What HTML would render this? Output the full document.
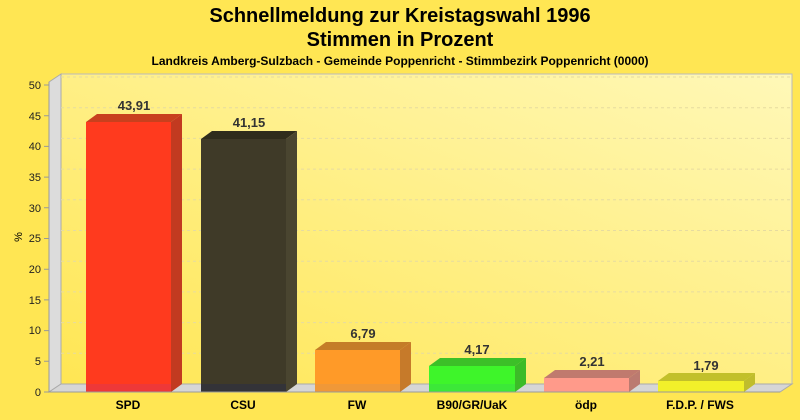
<!DOCTYPE html>
<html><head><meta charset="utf-8"><style>
html,body{margin:0;padding:0;background:#ffe653;}
svg{display:block;font-family:"Liberation Sans",Arial,sans-serif;}
</style></head><body>
<svg width="800" height="420" viewBox="0 0 800 420" xmlns="http://www.w3.org/2000/svg">
<defs>
<linearGradient id="bg" x1="0" y1="1" x2="1" y2="0">
<stop offset="0" stop-color="#ffe653"/><stop offset="1" stop-color="#fff8b8"/>
</linearGradient>
</defs>
<rect width="800" height="420" fill="#ffe653"/>
<text x="400" y="22" text-anchor="middle" font-size="20" font-weight="bold">Schnellmeldung zur Kreistagswahl 1996</text>
<text x="400" y="46" text-anchor="middle" font-size="20" font-weight="bold">Stimmen in Prozent</text>
<text x="400" y="65" text-anchor="middle" font-size="12" font-weight="bold">Landkreis Amberg-Sulzbach - Gemeinde Poppenricht - Stimmbezirk Poppenricht (0000)</text>
<rect x="61" y="74" width="731" height="310" fill="url(#bg)" stroke="#bbb" stroke-width="1"/>
<polygon points="49,82 61,74 61,384 49,392" fill="#dcdcdc" stroke="#aaa"/>
<polygon points="49,392 61,384 792,384 780,392" fill="#d6d6d6" stroke="#aaa"/>
<g stroke="#e6dba0" stroke-dasharray="3,3" stroke-width="1" fill="none">
<path d="M61 353.3H792M61 322.6H792M61 291.9H792M61 261.2H792M61 230.5H792M61 199.8H792M61 169.1H792M61 138.4H792M61 107.7H792M61 77H792"/>
</g>
<g stroke="#999" stroke-width="1">
<line x1="49" y1="82" x2="49" y2="392"/>
<path d="M44 392H49M44 361.3H49M44 330.6H49M44 299.9H49M44 269.2H49M44 238.5H49M44 207.8H49M44 177.1H49M44 146.4H49M44 115.7H49M44 85H49"/>
</g>
<g font-size="11" text-anchor="end" fill="#222">
<text x="41" y="396">0</text><text x="41" y="365">5</text><text x="41" y="334">10</text><text x="41" y="304">15</text><text x="41" y="273">20</text><text x="41" y="242">25</text><text x="41" y="212">30</text><text x="41" y="181">35</text><text x="41" y="150">40</text><text x="41" y="120">45</text><text x="41" y="89">50</text>
</g>
<text x="22" y="237" font-size="11" transform="rotate(-90 22 237)" text-anchor="middle">%</text>
<g>
<polygon points="86,122 97,114 182,114 171,122" fill="#c8401e"/>
<polygon points="171,122 182,114 182,384 171,392" fill="#c23a20"/>
<rect x="86" y="122" width="85" height="270" fill="#ff3a1e"/>
<rect x="86" y="384" width="85" height="8" fill="#ee3838"/>

<polygon points="201,139 212,131 297,131 286,139" fill="#2f2c1c"/>
<polygon points="286,139 297,131 297,384 286,392" fill="#4a4530"/>
<rect x="201" y="139" width="85" height="253" fill="#3f3a28"/>
<rect x="201" y="384" width="85" height="8" fill="#333338"/>

<polygon points="315,350 326,342 411,342 400,350" fill="#c47d28"/>
<polygon points="400,350 411,342 411,384 400,392" fill="#c67a2a"/>
<rect x="315" y="350" width="85" height="42" fill="#ff9a28"/>
<rect x="315" y="384" width="85" height="8" fill="#f09838"/>

<polygon points="429,366 440,358 526,358 515,366" fill="#3cc028"/>
<polygon points="515,366 526,358 526,384 515,392" fill="#3cbb28"/>
<rect x="429" y="366" width="86" height="26" fill="#3ef52a"/>
<rect x="429" y="384" width="86" height="8" fill="#3ce838"/>

<polygon points="544,378 555,370 640,370 629,378" fill="#c07a6e"/>
<polygon points="629,378 640,370 640,384 629,392" fill="#bb7a70"/>
<rect x="544" y="378" width="85" height="14" fill="#ff9a8a"/>

<polygon points="658,381 669,373 755,373 744,381" fill="#c2c02a"/>
<polygon points="744,381 755,373 755,384 744,392" fill="#c0bd2c"/>
<rect x="658" y="381" width="86" height="11" fill="#f2f02a"/>
</g>
<line x1="49" y1="392" x2="780" y2="392" stroke="#999"/>
<g font-size="13" font-weight="bold" text-anchor="middle" fill="#333">
<text x="134" y="110">43,91</text>
<text x="249" y="127">41,15</text>
<text x="363" y="338">6,79</text>
<text x="477" y="354">4,17</text>
<text x="592" y="366">2,21</text>
<text x="706" y="370">1,79</text>
</g>
<g font-size="12" font-weight="bold" text-anchor="middle" fill="#000">
<text x="128" y="409">SPD</text>
<text x="243" y="409">CSU</text>
<text x="357" y="409">FW</text>
<text x="472" y="409">B90/GR/UaK</text>
<text x="586" y="409">ödp</text>
<text x="700" y="409">F.D.P. / FWS</text>
</g>
</svg>
</body></html>
